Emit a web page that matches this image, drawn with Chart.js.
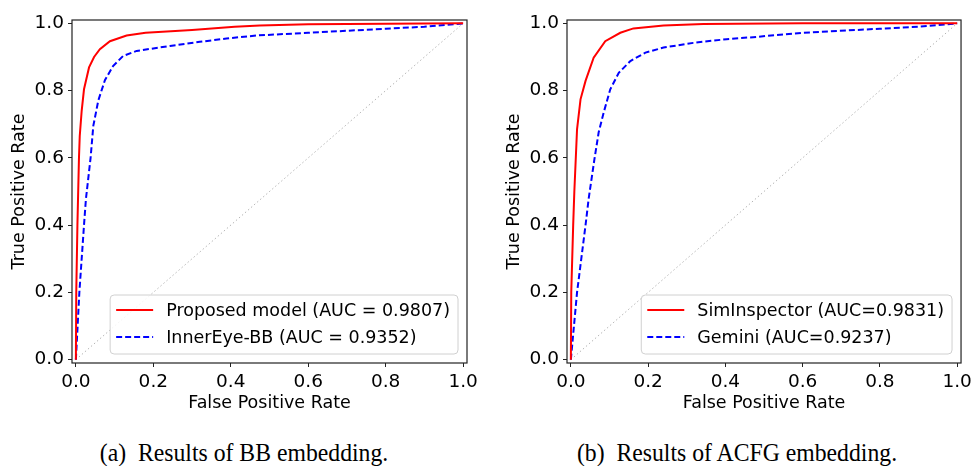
<!DOCTYPE html>
<html>
<head>
<meta charset="utf-8">
<script src="https://cdn.jsdelivr.net/npm/chart.js@4.4.1/dist/chart.umd.min.js"></script>
<style>
  body { margin: 0; background: #fff; width: 976px; height: 466px; position: relative; overflow: hidden; }
  canvas { position: absolute; top: 0; }
  #chartA { left: 0; }
  #chartB { left: 488px; }
  .caption {
    position: absolute; top: 438px; width: 488px; text-align: center;
    font-family: "Liberation Serif", "Times New Roman", serif; font-size: 25.5px; color: #000;
    white-space: pre; transform: scaleX(0.93);
  }
</style>
</head>
<body>
<canvas id="chartA" width="488" height="420"></canvas>
<canvas id="chartB" width="488" height="420"></canvas>
<div class="caption" style="left:0">(a)  Results of BB embedding.</div>
<div class="caption" style="left:493px">(b)  Results of ACFG embedding.</div>
<script>
// ROC curves, values
const proposedFpr = [0, 0.001, 0.004, 0.008, 0.010, 0.015, 0.021, 0.034, 0.047, 0.062, 0.088, 0.131, 0.18, 0.30, 0.41, 0.475, 0.6, 0.8, 1.0];
const proposedTpr = [0, 0.2, 0.4, 0.6, 0.665, 0.74, 0.804, 0.869, 0.9, 0.923, 0.947, 0.964, 0.972, 0.980, 0.99, 0.994, 0.997, 0.999, 1.0];

const innerEyeFpr = [0, 0.009, 0.021, 0.026, 0.038, 0.045, 0.058, 0.075, 0.096, 0.122, 0.157, 0.243, 0.32, 0.389, 0.467, 0.6, 0.8, 0.9, 1.0];
const innerEyeTpr = [0, 0.2, 0.4, 0.478, 0.6, 0.695, 0.771, 0.831, 0.873, 0.903, 0.918, 0.933, 0.945, 0.955, 0.964, 0.972, 0.984, 0.99, 1.0];

const simInspectorFpr = [0, 0.001, 0.006, 0.009, 0.016, 0.025, 0.038, 0.059, 0.089, 0.128, 0.162, 0.24, 0.343, 0.6, 1.0];
const simInspectorTpr = [0, 0.2, 0.4, 0.5, 0.685, 0.774, 0.829, 0.898, 0.947, 0.972, 0.985, 0.994, 0.998, 1.0, 1.0];

const geminiFpr = [0, 0.016, 0.038, 0.046, 0.061, 0.072, 0.085, 0.102, 0.124, 0.154, 0.193, 0.24, 0.317, 0.403, 0.472, 0.6, 0.8, 0.9, 1.0];
const geminiTpr = [0, 0.2, 0.4, 0.478, 0.596, 0.676, 0.735, 0.804, 0.853, 0.888, 0.913, 0.928, 0.942, 0.953, 0.959, 0.972, 0.984, 0.99, 1.0];

const chanceLine = [0, 1];
const tickValues = [0, 0.2, 0.4, 0.6, 0.8, 1.0];

const labelsA = ['Proposed model (AUC = 0.9807)', 'InnerEye-BB (AUC = 0.9352)'];
const labelsB = ['SimInspector (AUC=0.9831)', 'Gemini (AUC=0.9237)'];

const FONT = '"DejaVu Sans", sans-serif';
const pts = (xs, ys) => xs.map((x, i) => ({ x: x, y: ys[i] }));

// box legend in the lower right corner of the plot, matplotlib style
const boxLegend = {
    id: 'boxLegend',
    afterDatasetsDraw(chart) {
        const ctx = chart.ctx;
        const area = chart.chartArea;
        const items = chart.data.datasets.filter(d => !d.hideInLegend);
        ctx.save();
        ctx.font = '17.5px ' + FONT;
        const textW = Math.max(...items.map(d => ctx.measureText(d.label).width));
        const w = 6 + 37 + 13 + textW + 8;
        const h = 59;
        const x = area.right - 9 - w;
        const y = area.bottom - 9 - h;
        ctx.beginPath();
        ctx.roundRect(x, y, w, h, 4);
        ctx.fillStyle = 'rgba(255,255,255,0.85)';
        ctx.fill();
        ctx.strokeStyle = '#d0d0d0';
        ctx.lineWidth = 1;
        ctx.stroke();
        items.forEach((d, i) => {
            const cy = y + 15 + i * 27;
            ctx.beginPath();
            ctx.setLineDash(d.borderDash || []);
            ctx.strokeStyle = d.borderColor;
            ctx.lineWidth = d.borderWidth;
            ctx.moveTo(x + 6, cy);
            ctx.lineTo(x + 43, cy);
            ctx.stroke();
            ctx.setLineDash([]);
            ctx.fillStyle = '#000';
            ctx.textBaseline = 'middle';
            ctx.fillText(d.label, x + 56, cy + 1);
        });
        ctx.restore();
    },
    afterDraw(chart) {
        const a = chart.chartArea;
        const ctx = chart.ctx;
        ctx.save();
        ctx.strokeStyle = '#222';
        ctx.lineWidth = 1.2;
        ctx.strokeRect(a.left, a.top, a.right - a.left, a.bottom - a.top);
        ctx.restore();
    }
};

function axis(title, isX, titlePad) {
    return {
        type: 'linear',
        min: -0.01,
        max: 1.01,
        afterBuildTicks: s => { s.ticks = tickValues.map(v => ({ value: v })); },
        afterFit: s => { if (isX) s.height = 57; else s.width = 72; },
        grid: { drawOnChartArea: false, drawTicks: true, tickLength: 4, color: '#222', lineWidth: 1 },
        border: { display: false },
        ticks: {
            color: '#000',
            font: { family: FONT, size: 18.5 },
            padding: 4,
            maxRotation: 0,
            callback: v => v.toFixed(1)
        },
        title: {
            display: true,
            text: title,
            color: '#000',
            font: { family: FONT, size: 17.5 },
            padding: titlePad
        }
    };
}

function rocChart(id, redPts, bluePts, labels, pad) {
    return new Chart(document.getElementById(id), {
        type: 'scatter',
        data: {
            datasets: [
                {
                    label: labels[0], data: redPts, showLine: true,
                    borderColor: '#ff0000', borderWidth: 2, pointRadius: 0, tension: 0
                },
                {
                    label: labels[1], data: bluePts, showLine: true,
                    borderColor: '#0000ff', borderWidth: 2, borderDash: [6, 3], pointRadius: 0, tension: 0
                },
                {
                    label: 'chance', hideInLegend: true, data: pts(chanceLine, chanceLine), showLine: true,
                    borderColor: '#b5b5b5', borderWidth: 1, borderDash: [1.5, 2.5], pointRadius: 0
                }
            ]
        },
        options: {
            responsive: false,
            animation: false,
            devicePixelRatio: 1,
            layout: { padding: pad },
            plugins: { legend: { display: false }, tooltip: { enabled: false } },
            scales: {
                x: axis('False Positive Rate', true, { top: 0, bottom: 6 }),
                y: axis('True Positive Rate', false, { top: 9, bottom: 0 })
            }
        },
        plugins: [boxLegend]
    });
}

rocChart('chartA', pts(proposedFpr, proposedTpr), pts(innerEyeFpr, innerEyeTpr), labelsA,
    { top: 20, right: 21, left: 0, bottom: 0 });
rocChart('chartB', pts(simInspectorFpr, simInspectorTpr), pts(geminiFpr, geminiTpr), labelsB,
    { top: 20, right: 12, left: 7, bottom: 0 });
</script>
</body>
</html>
